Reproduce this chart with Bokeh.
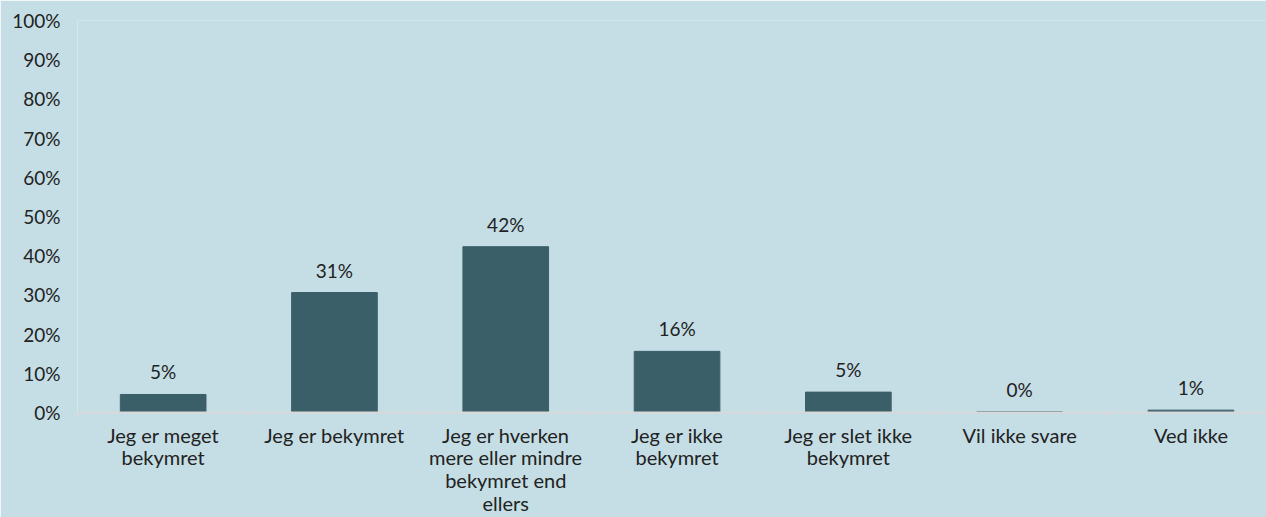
from bokeh.plotting import figure
from bokeh.models import FixedTicker, ColumnDataSource, Range1d
from bokeh.core.properties import value
from bokeh.embed import file_html
from bokeh.resources import INLINE

categories = [
    "Jeg er meget\nbekymret",
    "Jeg er bekymret",
    "Jeg er hverken\nmere eller mindre\nbekymret end\nellers",
    "Jeg er ikke\nbekymret",
    "Jeg er slet ikke\nbekymret",
    "Vil ikke svare",
    "Ved ikke",
]
values = [4.6, 30.6, 42.3, 15.6, 5.2, 0.2, 0.6]
labels = [f"{round(v)}%" for v in values]
y_ticks = [0, 10, 20, 30, 40, 50, 60, 70, 80, 90, 100]

BG = "#c5dee5"
BAR = "#3b5f69"
TXT = "#222222"
FONT = "Lato"

xs = [i + 0.5 for i in range(len(categories))]
src = ColumnDataSource(dict(x=xs, top=values, label=labels))

p = figure(width=1266, height=517, output_backend="svg", toolbar_location=None,
           x_range=Range1d(0, 6.941), y_range=Range1d(0, 100),
           min_border_left=77, min_border_top=20, min_border_right=0, min_border_bottom=105)
p.background_fill_color = BG
p.border_fill_color = BG
p.outline_line_color = None
p.grid.visible = False

p.vbar(x="x", top="top", width=0.5, bottom=0, source=src, color=BAR, line_color=BAR)
p.text(x="x", y="top", text="label", source=src, text_align="center", text_baseline="bottom",
       y_offset=-11, text_font=value(FONT), text_font_size="19px", text_color=TXT)

xa = p.xaxis[0]
xa.ticker = FixedTicker(ticks=xs, minor_ticks=list(range(len(categories) + 1)))
xa.major_label_overrides = {x: c for x, c in zip(xs, categories)}
xa.major_tick_out = 0
xa.major_tick_in = 0
xa.minor_tick_out = 5
xa.minor_tick_in = 0
xa.minor_tick_line_color = "#d9d9d9"
xa.minor_tick_line_width = 2
xa.axis_line_color = "#d9d9d9"
xa.axis_line_width = 2
xa.major_label_standoff = 5
xa.major_label_text_font = FONT
xa.major_label_text_font_size = "20px"
xa.major_label_text_color = TXT
xa.major_label_text_line_height = 0.95

ya = p.yaxis[0]
ya.ticker = FixedTicker(ticks=y_ticks)
ya.major_label_overrides = {t: f"{t}%" for t in y_ticks}
ya.axis_line_color = None
ya.major_tick_line_color = None
ya.minor_tick_line_color = None
ya.major_tick_in = 0
ya.major_tick_out = 0
ya.major_label_standoff = 17
ya.major_label_text_font = FONT
ya.major_label_text_font_size = "19px"
ya.major_label_text_color = TXT

open("out.html", "w").write(file_html(p, INLINE))
